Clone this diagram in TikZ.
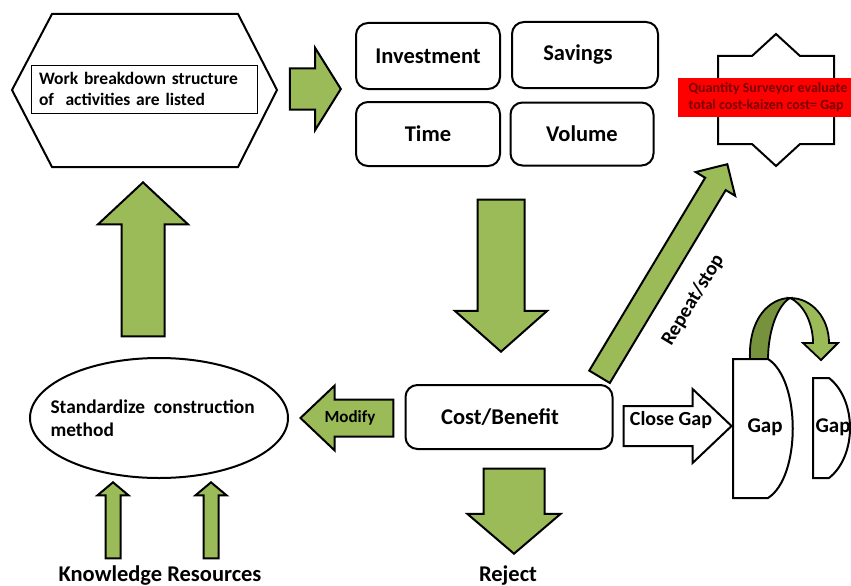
\documentclass[tikz,border=0pt]{standalone}
\usepackage{fontspec}
\setmainfont{Carlito}
\usetikzlibrary{shapes.arrows,shapes.geometric}
\definecolor{kaizengreen}{RGB}{155,187,89}
\definecolor{kaizendark}{RGB}{118,146,60}
\definecolor{qsred}{RGB}{120,0,0}
\begin{document}
\begin{tikzpicture}[x=1pt,y=-1pt,line cap=round,
	greenarrow/.style={single arrow,draw=black,fill=kaizengreen,line width=2pt,inner sep=0pt,single arrow head indent=0pt,anchor=tip},
	bold/.style={font=\bfseries\pgfmathsetmacro\kbase{1.2*#1}\fontsize{#1}{\kbase}\selectfont},
	roundbox/.style={draw,rounded corners=12pt,line width=2pt,bold=22.5}]
	\useasboundingbox (0,0) rectangle (851,586);
	% hexagon with the list of activities
	\draw[line width=2pt] (12,90) -- (52,14) -- (238,14) -- (277,90) -- (238,167) -- (52,167) -- cycle;
	\node[draw,line width=0.8pt,align=left,text width=210pt,inner xsep=8pt,minimum height=48pt,bold=17.5] (wbs) at (144,89) {Work breakdown structure\\of\ \ activities are listed};
	% the four measures
	\node[roundbox,minimum width=144pt,minimum height=66pt] (invest) at (428,56) {Investment};
	\node[roundbox,minimum width=146pt,minimum height=66pt] (savings) at (585,55) {Savings\kern14pt};
	\node[roundbox,minimum width=144pt,minimum height=64pt] (time) at (428,134) {Time};
	\node[roundbox,minimum width=143pt,minimum height=63pt] (volume) at (582,134) {Volume};
	% star behind the red banner
	\draw[line width=2pt] (776,34) -- (800,56) -- (834,56) -- (834,87) -- (848,100) -- (834,113) -- (834,144) -- (800,144) -- (776,166) -- (752,144) -- (718,144) -- (718,113) -- (704,100) -- (718,87) -- (718,56) -- (752,56) -- cycle;
	\node[fill=red,minimum width=180pt,minimum height=39pt,inner sep=0pt,align=left,text=qsred,bold=14] (qs) at (768,97.5) {Quantity Surveyor evaluate\\total cost-kaizen cost= Gap};
	% main flow
	\node[greenarrow,inner ysep=19.5pt,minimum height=51pt,single arrow head extend=20.5pt,single arrow tip angle=116] (toboxes) at (342,89) {};
	\node[greenarrow,rotate=-90,inner ysep=22.5pt,minimum height=152pt,single arrow head extend=22.5pt,single arrow tip angle=97] (tocost) at (501,353) {};
	\node[roundbox,minimum width=207pt,minimum height=64pt] (cost) at (509,417) {Cost/Benefit\kern18pt};
	\node[greenarrow,rotate=-90,inner ysep=29.5pt,minimum height=85pt,single arrow head extend=16pt,single arrow tip angle=99] (reject) at (514,555) {};
	\node[bold=22.5,inner sep=0pt,anchor=base] (rejectlbl) at (508,581) {Reject};
	\node[greenarrow,shape border rotate=180,inner ysep=17.5pt,minimum height=93pt,single arrow head extend=14pt,single arrow tip angle=87] (modify) at (299,418) {};
	\node[bold=17] (modifylbl) at (350,418) {Modify};
	\node[ellipse,draw,line width=2pt,minimum width=258pt,minimum height=120pt,inner sep=0pt] (stdz) at (159,418) {};
	\node[align=left,anchor=west,bold=19.4] (stdzlbl) at (47,418) {Standardize\ \ construction\\method};
	\node[greenarrow,rotate=90,inner ysep=20.5pt,minimum height=154pt,single arrow head extend=23.5pt,single arrow tip angle=94] (towbs) at (143,181) {};
	\node[greenarrow,rotate=90,inner ysep=6.5pt,minimum height=76pt,single arrow head extend=8pt,single arrow tip angle=100] (knowA) at (113,481) {};
	\node[greenarrow,rotate=90,inner ysep=6.5pt,minimum height=76pt,single arrow head extend=8pt,single arrow tip angle=100] (knowB) at (211,481) {};
	\node[bold=22.5,inner sep=0pt,anchor=base] (know) at (160,581) {Knowledge Resources};
	\node[greenarrow,rotate=59,inner ysep=11pt,minimum height=248pt,single arrow head extend=11pt,single arrow tip angle=90] (repeat) at (728,163) {};
	\node[rotate=59,bold=20] (repeatlbl) at (693,300) {Repeat/stop};
	% closing the gap
	\fill[kaizendark,draw=black,line width=1.8pt] (750,360) .. controls (748,318) and (770,298) .. (790,298) .. controls (778,305) and (768,330) .. (768,360) -- cycle;
	\fill[kaizengreen,draw=black,line width=1.8pt] (790,298) .. controls (812,298) and (829,318) .. (829,343) -- (838,343) -- (821,360) -- (803,343) -- (813,343) .. controls (813,325) and (805,305) .. (790,298) -- cycle;
	\node[greenarrow,fill=white,inner ysep=19pt,minimum height=108pt,single arrow head extend=17pt,single arrow tip angle=87] (closegap) at (733,426) {};
	\node[bold=20] (closelbl) at (671,420) {Close Gap};
	\draw[line width=2pt,fill=white] (733,359) -- (768,359) .. controls (801,380) and (801,477) .. (768,498) -- (733,498) -- cycle;
	\node[bold=21] (gapA) at (765,427) {Gap};
	\draw[line width=2pt,fill=white] (813,378) -- (829,378) .. controls (857,400) and (857,456) .. (829,478) -- (813,478) -- cycle;
	\node[bold=21] (gapB) at (833,427) {Gap};
\end{tikzpicture}
\end{document}
